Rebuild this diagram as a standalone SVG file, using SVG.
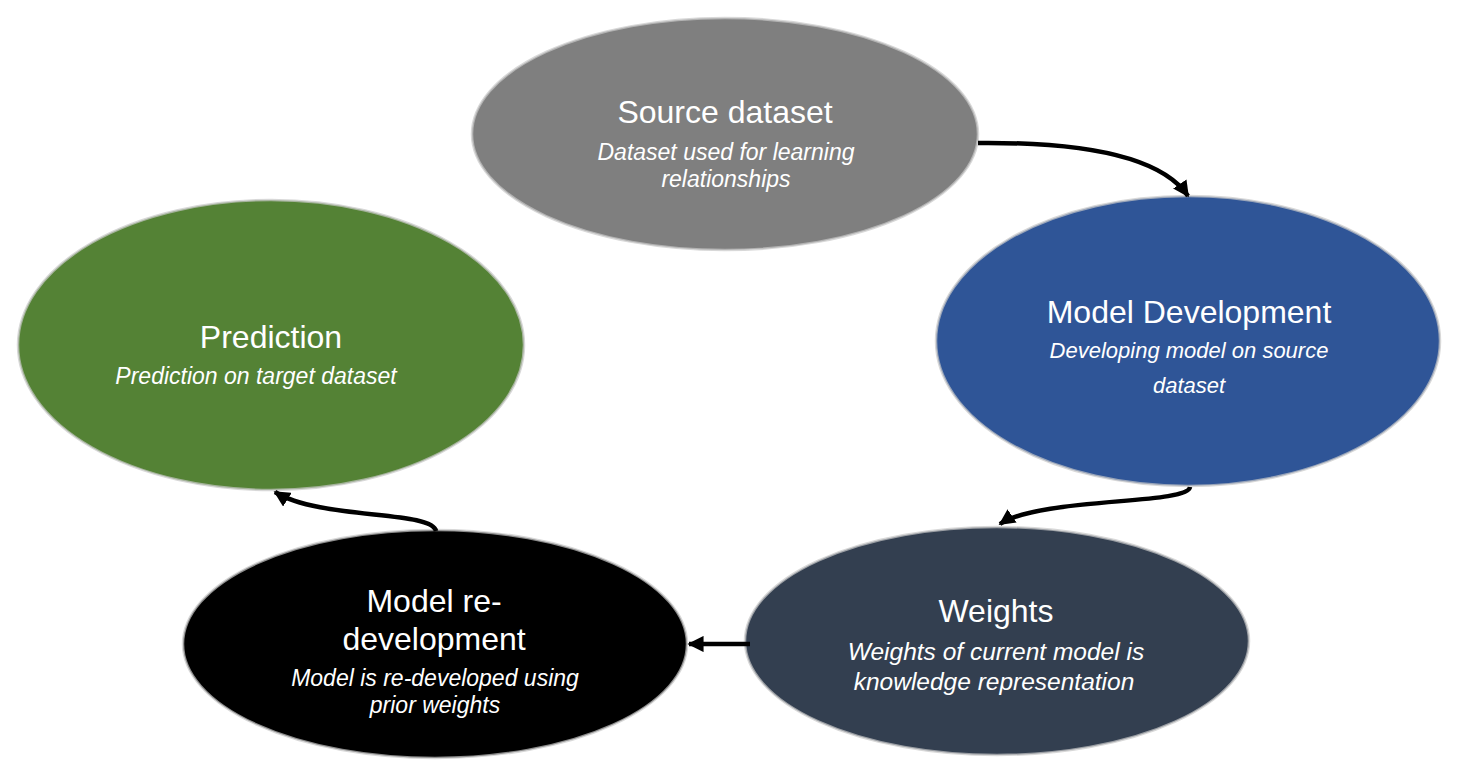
<svg xmlns="http://www.w3.org/2000/svg" width="1461" height="776" viewBox="0 0 1461 776">
<style>
.node ellipse{stroke:#c8c8c8;stroke-width:2.5;stroke-opacity:0.7}
.t{font-family:"Liberation Sans",Arial,sans-serif;fill:#ffffff;text-anchor:middle}
.title{font-size:32px}
.sub{font-size:23px;font-style:italic}
.conn path{fill:none;stroke:#000;stroke-width:4.5}
</style>
<defs>
<marker id="ah" viewBox="0 0 10 10" refX="9" refY="5" markerWidth="3.6" markerHeight="3.6" orient="auto" markerUnits="strokeWidth">
<path d="M0,0 L10,5 L0,10 z" fill="#000"/>
</marker>
</defs>
<rect width="1461" height="776" fill="#ffffff"/>
<g id="source" class="node">
<ellipse cx="725" cy="134" rx="253" ry="116" fill="#7f7f7f"/>
<text class="t title" x="725" y="123">Source dataset</text>
<text class="t sub" x="726" y="160">Dataset used for learning</text>
<text class="t sub" x="726" y="187">relationships</text>
</g>
<g id="model-development" class="node">
<ellipse cx="1188" cy="341" rx="252" ry="145" fill="#2f5597"/>
<text class="t title" x="1189" y="323">Model Development</text>
<text class="t sub" x="1189" y="358" style="font-size:22px">Developing model on source</text>
<text class="t sub" x="1189" y="393" style="font-size:22px">dataset</text>
</g>
<g id="weights" class="node">
<ellipse cx="997" cy="641" rx="252" ry="114" fill="#333f50"/>
<text class="t title" x="996" y="622">Weights</text>
<text class="t sub" x="996" y="660" style="font-size:24.5px">Weights of current model is</text>
<text class="t sub" x="994" y="690" style="font-size:24.5px">knowledge representation</text>
</g>
<g id="model-redevelopment" class="node">
<ellipse cx="435" cy="644" rx="252" ry="114" fill="#000000"/>
<text class="t title" x="434" y="612">Model re-</text>
<text class="t title" x="434" y="650">development</text>
<text class="t sub" x="435" y="686">Model is re-developed using</text>
<text class="t sub" x="435" y="713">prior weights</text>
</g>
<g id="prediction" class="node">
<ellipse cx="271" cy="345" rx="253" ry="145" fill="#548235"/>
<text class="t title" x="271" y="348">Prediction</text>
<text class="t sub" x="256" y="384">Prediction on target dataset</text>
</g>
<g id="connectors" class="conn">
<path d="M978,143 C1080,142 1160,155 1188,196" marker-end="url(#ah)"/>
<path d="M1190,487 C1188,505 1040,497 1000,524" marker-end="url(#ah)"/>
<path d="M750,644 L689,644" marker-end="url(#ah)"/>
<path d="M436,531 C432,510 320,520 275,492" marker-end="url(#ah)"/>
</g>
</svg>
